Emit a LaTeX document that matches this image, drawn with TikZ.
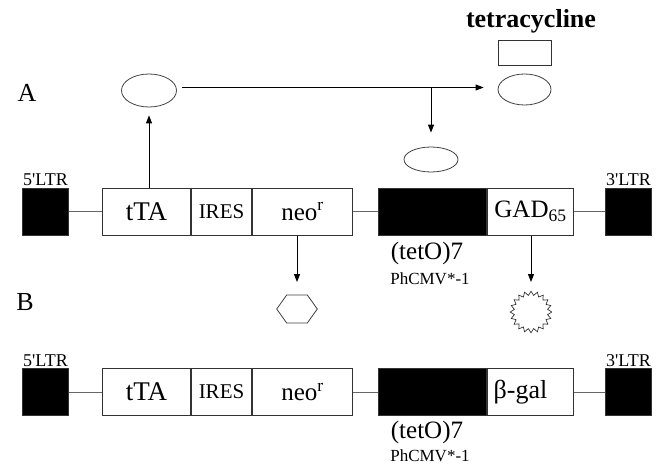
\documentclass[tikz,border=0pt]{standalone}
\usepackage{fontspec}
\setmainfont{Liberation Serif}
\usetikzlibrary{shapes.geometric,arrows.meta}

\tikzset{
	gene/.style={draw=black!80, line width=1pt, minimum height=47pt, inner sep=0pt, anchor=west},
	ltr/.style={gene, fill=black, minimum width=46pt},
	prot/.style={draw=black!75, ellipse, line width=0.8pt, inner sep=0pt},
	link/.style={draw=black!60, line width=1pt},
	arr/.style={line width=1pt, -{Triangle[length=8pt,width=6pt]}},
	ltrname/.style={font=\fontsize{18}{18}\selectfont, anchor=south, inner sep=1.5pt},
	genename/.style={font=\fontsize{25}{25}\selectfont},
	promname/.style={font=\fontsize{17}{17}\selectfont},
	panel/.style={font=\fontsize{26}{26}\selectfont},
}

\begin{document}
\begin{tikzpicture}[x=1pt, y=-1pt]

	\useasboundingbox (0,0) rectangle (660,465);

	% A
	\node[panel] (pA) at (27,93) {A};
	\node[ltr] (ltrA5) at (22,211.5) {};
	\node[gene, minimum width=88pt, font=\fontsize{27}{27}\selectfont] (ttaA) at (102,211.5) {tTA};
	\node[gene, minimum width=60pt, font=\fontsize{21}{21}\selectfont] (iresA) at (ttaA.east) {IRES};
	\node[gene, minimum width=100pt, genename] (neoA) at (iresA.east) {neo\textsuperscript{r}};
	\node[gene, fill=black, minimum width=108pt] (tetoA) at (378,211.5) {};
	\node[gene, minimum width=86pt, genename] (gadA) at (tetoA.east) {GAD\textsubscript{65}};
	\node[ltr] (ltrA3) at (605,211.5) {};
	\draw[link] (ltrA5) -- (ttaA);
	\draw[link] (neoA) -- (tetoA);
	\draw[link] (gadA) -- (ltrA3);
	\node[ltrname] (lA5) at (ltrA5.north) {5\textquotesingle LTR};
	\node[ltrname] (lA3) at (ltrA3.north) {3\textquotesingle LTR};
	\node[genename] (opA) at (427,253) {(tetO)7};
	\node[promname] (cmvA) at (430,279) {PhCMV*-1};

	\node[prot, minimum width=55pt, minimum height=33pt] (tTAprot) at (149,90.5) {};
	\node[prot, minimum width=53pt, minimum height=31pt] (tetprot) at (524.5,89.5) {};
	\node[prot, minimum width=54pt, minimum height=25pt] (bound) at (431,159.5) {};
	\node[draw=black!80, line width=1pt, minimum width=53pt, minimum height=25pt] (tetra) at (524.5,53.5) {};
	\node[font=\bfseries\fontsize{26}{26}\selectfont] (tetraname) at (531,21) {tetracycline};

	\coordinate (fork) at (431,87.5);
	\coordinate (hex) at (297,309);
	\coordinate (star) at (531,312);

	\draw[arr] (ttaA.north -| tTAprot) -- ([yshift=-8pt]tTAprot.south);
	\draw[arr] ([xshift=5pt]tTAprot.east |- fork) -- ([xshift=-14pt]tetprot.west |- fork);
	\draw[arr] (fork) -- ([yshift=14pt]bound.north);
	\draw[arr] (neoA.south -| hex) -- ([yshift=27pt]hex);
	\draw[arr] (gadA.south -| star) -- ([yshift=30pt]star);

	\draw[line width=0.8pt, draw=black!75] (hex) ++(-20.3,0) -- ++(10,-14) -- ++(20.6,0) -- ++(10,14) -- ++(-10,14) -- ++(-20.6,0) -- cycle;
	\draw[line width=0.7pt, draw=black!80, shift={(star)}] plot[samples=41, domain=0:360] (\x:{18.8+2*cos(20*\x)});

	% B
	\node[panel] (pB) at (25,302) {B};
	\node[ltr] (ltrB5) at (22,392) {};
	\node[gene, minimum width=88pt, font=\fontsize{27}{27}\selectfont] (ttaB) at (102,392) {tTA};
	\node[gene, minimum width=60pt, font=\fontsize{21}{21}\selectfont] (iresB) at (ttaB.east) {IRES};
	\node[gene, minimum width=100pt, genename] (neoB) at (iresB.east) {neo\textsuperscript{r}};
	\node[gene, fill=black, minimum width=108pt] (tetoB) at (378,392) {};
	\node[gene, minimum width=86pt, font=\fontsize{26}{26}\selectfont] (galB) at (tetoB.east) {\hspace*{-20pt}β-gal};
	\node[ltr] (ltrB3) at (605,392) {};
	\draw[link] (ltrB5) -- (ttaB);
	\draw[link] (neoB) -- (tetoB);
	\draw[link] (galB) -- (ltrB3);
	\node[ltrname] (lB5) at (ltrB5.north) {5\textquotesingle LTR};
	\node[ltrname] (lB3) at (ltrB3.north) {3\textquotesingle LTR};
	\node[genename] (opB) at (427,432.5) {(tetO)7};
	\node[promname] (cmvB) at (430,455.5) {PhCMV*-1};

\end{tikzpicture}
\end{document}
